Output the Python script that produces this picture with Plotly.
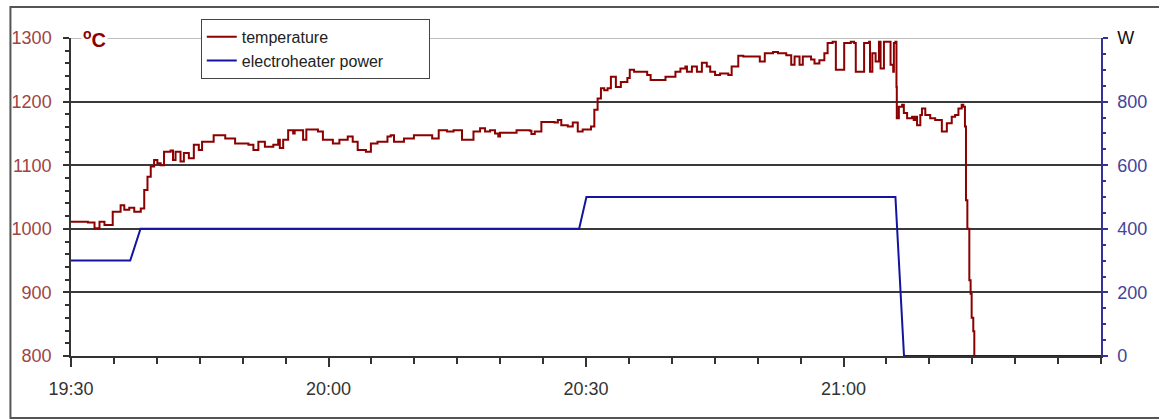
import pandas as pd
import plotly.graph_objects as go

# ---- data ----
# minutes after 19:30
temp_minutes = [0.0, 1.97, 2.74, 3.32, 3.90, 4.86, 5.78, 6.21, 6.79, 7.37, 8.13, 8.53, 8.91, 9.29, 9.68,
                10.06, 10.45, 10.84, 11.60, 11.88, 12.18, 12.76, 13.15, 13.73, 14.31, 14.89, 15.27, 16.62,
                17.97, 19.12, 20.67, 21.25, 21.83, 22.59, 23.57, 24.14, 24.33, 24.72, 25.30, 25.88, 26.06,
                27.04, 27.42, 28.77, 29.35, 30.51, 31.27, 32.24, 32.82, 33.40, 34.36, 34.94, 35.71, 36.87,
                37.25, 37.63, 38.79, 39.95, 41.10, 42.08, 42.84, 43.81, 44.57, 45.15, 45.55, 46.31, 46.89,
                47.66, 48.24, 48.82, 49.40, 49.78, 49.98, 51.91, 53.45, 53.64, 54.03, 54.80, 55.38, 56.34,
                56.72, 57.12, 57.88, 58.46, 59.04, 59.61, 60.58, 60.97, 61.35, 61.74, 62.12, 62.51, 62.90,
                63.28, 63.48, 64.06, 64.82, 65.10, 65.60, 66.56, 67.13, 67.53, 68.87, 69.26, 70.22, 70.42,
                71.00, 71.58, 71.76, 72.34, 72.92, 73.50, 74.07, 74.47, 75.04, 75.62, 76.58, 76.97, 77.74,
                78.32, 79.86, 80.25, 80.83, 81.79, 82.37, 83.33, 83.91, 84.30, 84.88, 85.26, 86.22, 86.62,
                87.19, 87.77, 88.15, 88.73, 89.11, 89.51, 90.08, 90.85, 91.24, 91.43, 92.00, 92.40, 92.98,
                93.09, 93.36, 93.74, 94.13, 94.32, 94.71, 94.90, 95.48, 95.79, 95.87, 96.05, 96.17, 96.21,
                96.45, 96.83, 97.03, 97.41, 97.99, 98.18, 98.37, 98.57, 98.95, 99.14, 99.53, 100.10,
                100.68, 101.26, 101.46, 101.84, 102.04, 102.61, 103.00, 103.39, 103.77, 103.96, 104.15,
                104.27, 104.43, 104.66, 104.81, 104.93, 105.12, 105.24]
temperature = [1011, 1010, 1001, 1011, 1006, 1027, 1037, 1030, 1033, 1027, 1032, 1061, 1082, 1098, 1108,
               1103, 1100, 1121, 1123, 1108, 1121, 1106, 1119, 1111, 1132, 1124, 1137, 1147,
               1142, 1134, 1132, 1124, 1137, 1129, 1132, 1140, 1127, 1140, 1155, 1150, 1155,
               1140, 1156, 1153, 1140, 1134, 1140, 1145, 1137, 1124, 1121, 1134, 1137, 1145,
               1147, 1137, 1142, 1147, 1147, 1142, 1155, 1153, 1155, 1155, 1140, 1140, 1153,
               1158, 1153, 1155, 1150, 1145, 1151, 1155, 1154, 1149, 1153, 1168, 1168, 1167,
               1171, 1163, 1161, 1167, 1153, 1156, 1161, 1187, 1205, 1221, 1218, 1221, 1239,
               1239, 1223, 1231, 1237, 1250, 1247, 1247, 1242, 1234, 1234, 1239, 1239, 1247,
               1252, 1255, 1247, 1255, 1247, 1261, 1255, 1247, 1242, 1244, 1242, 1255, 1272,
               1271, 1271, 1263, 1276, 1278, 1276, 1273, 1258, 1271, 1258, 1271, 1266, 1260,
               1265, 1276, 1292, 1294, 1250, 1250, 1292, 1294, 1292, 1247, 1247, 1292, 1294,
               1247, 1276, 1263, 1294, 1252, 1294, 1294, 1258, 1247, 1292, 1294, 1223, 1174,
               1192, 1195, 1182, 1174, 1176, 1171, 1176, 1163, 1179, 1189, 1179, 1174,
               1171, 1171, 1153, 1153, 1166, 1176, 1179, 1189, 1195, 1192, 1161,
               1045, 1000, 919, 898, 860, 839, 800]

power_minutes = [0.0, 6.9, 8.1, 59.2, 60.05, 96.05, 97.05, 120.0]
power = [300, 300, 400, 400, 500, 500, 0, 0]

x_ticks = ["19:30", "20:00", "20:30", "21:00"]
temp_ticks = [800, 900, 1000, 1100, 1200, 1300]
power_ticks = [0, 200, 400, 600, 800, 1000]
power_ticktext = ["0", "200", "400", "600", "800", '<span style="color:#111111">W</span>']
series_names = ["temperature", "electroheater power"]

base = pd.Timestamp("2000-01-01 19:30")
t_temp = [base + pd.Timedelta(minutes=m) for m in temp_minutes]
t_pow = [base + pd.Timedelta(minutes=m) for m in power_minutes]
tick_dates = [pd.Timestamp("2000-01-01 " + s) for s in x_ticks]

FONT = "Liberation Sans, Arial, sans-serif"
RED = "#8b0000"
BLUE = "#1414a0"
PAD = "&nbsp;" * 9

fig = go.Figure()
fig.add_trace(go.Scatter(x=t_temp, y=temperature, mode="lines", name=series_names[0],
                         line=dict(color=RED, width=2, shape="hv")))
fig.add_trace(go.Scatter(x=t_pow, y=power, mode="lines", name=series_names[1] + PAD,
                         line=dict(color=BLUE, width=2), yaxis="y2"))

fig.update_layout(
    width=1159, height=419,
    margin=dict(l=68, r=53, t=38, b=63),
    paper_bgcolor="white", plot_bgcolor="white",
    font=dict(family=FONT, size=18, color="#333333"),
    showlegend=True,
    legend=dict(x=0.126, y=1.06, xanchor="left", yanchor="top",
                bgcolor="white", bordercolor="#444444", borderwidth=1,
                font=dict(family=FONT, size=16, color="#222222"),
                itemwidth=30),
    xaxis=dict(type="date",
               range=[base, base + pd.Timedelta(minutes=120)],
               tickmode="array", tickvals=tick_dates, ticktext=x_ticks,
               ticks="outside", ticklen=9, tickwidth=1.5, tickcolor="#333333",
               showline=True, linecolor="#333333", linewidth=1.5,
               showgrid=False, zeroline=False,
               minor=dict(tickmode="linear", tick0=base, dtick=300000,
                          ticks="outside", ticklen=6, tickcolor="#333333", showgrid=False),
               tickfont=dict(size=18, color="#333333"), ticklabelstandoff=7),
    yaxis=dict(range=[800, 1300], tickmode="array", tickvals=temp_ticks,
               ticks="outside", ticklen=6, tickwidth=1.5, tickcolor="#333333",
               showline=True, linecolor="#333333", linewidth=1.5,
               showgrid=True, gridcolor="#3a3a3a", gridwidth=1.5, zeroline=False,
               minor=dict(dtick=20, ticks="outside", ticklen=4, tickcolor="#333333", showgrid=False),
               tickfont=dict(size=18, color="#a04444"), ticklabelstandoff=8),
    yaxis2=dict(range=[0, 1000], overlaying="y", side="right",
                tickmode="array", tickvals=power_ticks, ticktext=power_ticktext,
                ticks="outside", ticklen=5, tickwidth=1.5, tickcolor="#333399",
                showline=True, linecolor="#333399", linewidth=1.5,
                showgrid=False, zeroline=False,
                minor=dict(dtick=50, ticks="outside", ticklen=3, tickcolor="#333399", showgrid=False),
                tickfont=dict(size=18, color="#44449a"), ticklabelstandoff=6),
)

# lighter top grid line at 1300
fig.add_shape(type="line", xref="paper", yref="y", x0=0, x1=1, y0=1300, y1=1300,
              line=dict(color="#a8a8a8", width=1.5), layer="between")

# outer frame
fig.add_shape(type="rect", xref="paper", yref="paper",
              x0=-0.0588, x1=1.06, y0=-0.195, y1=1.0975,
              line=dict(color="#555555", width=2), layer="above")

# unit label
fig.add_annotation(xref="paper", yref="paper", x=0.0096, y=1.0, xanchor="left", yanchor="middle",
                   text="<b><sup>o</sup>C</b>", showarrow=False, bgcolor="white",
                   font=dict(family=FONT, size=20, color=RED))

fig.write_html("out.html", config={"displayModeBar": False},
               post_script="document.body.style.margin='0';document.body.style.overflow='hidden';")
